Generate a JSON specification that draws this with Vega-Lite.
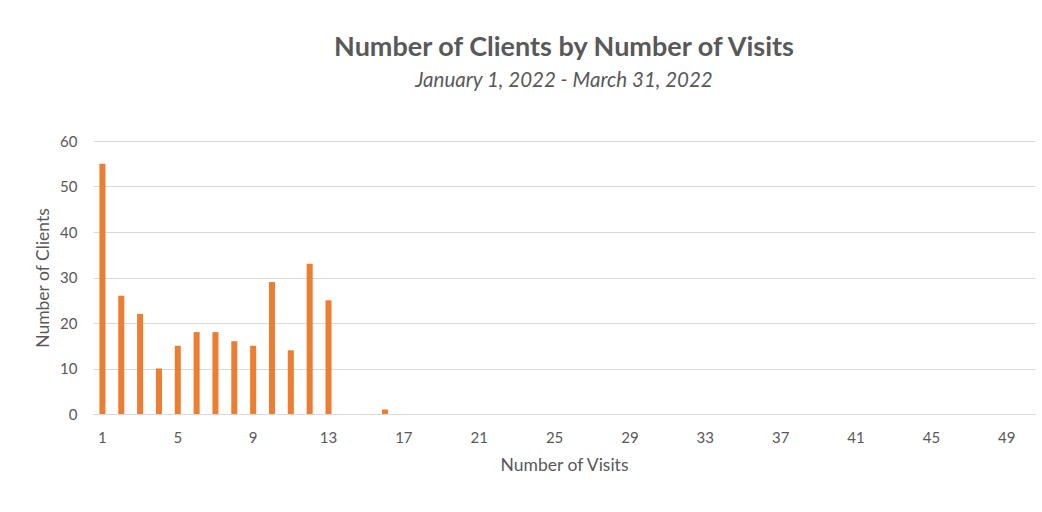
{
  "$schema": "https://vega.github.io/schema/vega-lite/v6.json",
  "width": 942,
  "height": 273,
  "autosize": {"type": "none"},
  "padding": {"left": 93, "top": 141, "right": 7, "bottom": 98},
  "background": "white",
  "title": {
    "text": "Number of Clients by Number of Visits",
    "subtitle": "January 1, 2022 - March 31, 2022",
    "anchor": "middle",
    "font": "Lato",
    "fontSize": 27,
    "fontWeight": "bold",
    "color": "#595959",
    "subtitleFont": "Lato",
    "subtitleFontSize": 20.5,
    "subtitleFontStyle": "italic",
    "subtitleColor": "#595959",
    "subtitlePadding": 9,
    "offset": 42
  },
  "data": {
    "values": [
      {"visits": 1, "clients": 55},
      {"visits": 2, "clients": 26},
      {"visits": 3, "clients": 22},
      {"visits": 4, "clients": 10},
      {"visits": 5, "clients": 15},
      {"visits": 6, "clients": 18},
      {"visits": 7, "clients": 18},
      {"visits": 8, "clients": 16},
      {"visits": 9, "clients": 15},
      {"visits": 10, "clients": 29},
      {"visits": 11, "clients": 14},
      {"visits": 12, "clients": 33},
      {"visits": 13, "clients": 25},
      {"visits": 16, "clients": 1}
    ]
  },
  "mark": {"type": "bar", "color": "#ED7D31"},
  "encoding": {
    "x": {
      "field": "visits",
      "type": "ordinal",
      "title": "Number of Visits",
      "scale": {
        "domain": [1,2,3,4,5,6,7,8,9,10,11,12,13,14,15,16,17,18,19,20,21,22,23,24,25,26,27,28,29,30,31,32,33,34,35,36,37,38,39,40,41,42,43,44,45,46,47,48,49,50],
        "paddingInner": 0.68,
        "paddingOuter": 0.34
      },
      "axis": {
        "values": [1,5,9,13,17,21,25,29,33,37,41,45,49],
        "labelAngle": 0,
        "ticks": false,
        "domainColor": "#d9d9d9",
        "domainWidth": 1,
        "labelPadding": 16,
        "titlePadding": 11
      }
    },
    "y": {
      "field": "clients",
      "type": "quantitative",
      "title": "Number of Clients",
      "scale": {"domain": [0, 60]},
      "axis": {
        "values": [0,10,20,30,40,50,60],
        "ticks": false,
        "domain": false,
        "gridColor": "#d9d9d9",
        "labelPadding": 16,
        "titlePadding": 7
      }
    }
  },
  "config": {
    "view": {"stroke": null},
    "axis": {
      "labelFont": "Lato",
      "labelFontSize": 15,
      "labelColor": "#595959",
      "titleFont": "Lato",
      "titleFontSize": 17.5,
      "titleFontWeight": "normal",
      "titleColor": "#595959"
    }
  }
}
